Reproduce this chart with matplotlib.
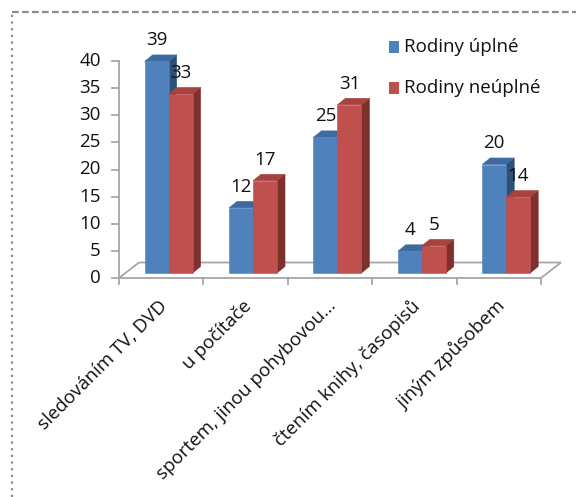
import matplotlib
matplotlib.use("Agg")
import matplotlib.pyplot as plt
from matplotlib.patches import Polygon, Rectangle
from matplotlib.lines import Line2D

plt.rcParams['font.family'] = ['Open Sans', 'DejaVu Sans']

categories = ["sledováním TV, DVD", "u počítače", "sportem, jinou pohybovou...",
              "čtením knihy, časopisů", "jiným způsobem"]
series_names = ["Rodiny úplné", "Rodiny neúplné"]
uplne = [39, 12, 25, 4, 20]
neuplne = [33, 17, 31, 5, 14]
y_ticks = [0, 5, 10, 15, 20, 25, 30, 35, 40]

# face colours: front, top, side
blue = ("#4F81BD", "#3E6AA1", "#2D4F78")
red = ("#C0504D", "#A6433F", "#7E302D")

W, H = 576, 497
fig = plt.figure(figsize=(W / 100, H / 100), dpi=100)
fig.patch.set_facecolor("white")

# plot area in pixels
px_left, px_right, px_zero, px_top = 119, 541, 278, 61
ax = fig.add_axes([px_left / W, (H - px_zero) / H,
                   (px_right - px_left) / W, (px_zero - px_top) / H])
ax.set_xlim(-0.5, 4.5)
ax.set_ylim(0, 40)
ax.axis("off")

ux = (px_right - px_left) / 5.0   # pixels per category
uy = (px_zero - px_top) / 40.0    # pixels per value unit

def px(dx, dy):
    return dx / ux, dy / uy

axis_col = "#A6A6A6"
text_col = "#111111"
fs = 13.5

# floor of the 3D plot
fdx, fdy = px(20, 15.5)
floor = [(-0.5, 0), (4.5, 0), (4.5 + fdx, fdy), (-0.5 + fdx, fdy)]
ax.add_patch(Polygon(floor, closed=True, facecolor="none", edgecolor=axis_col,
                     lw=1.3, clip_on=False, zorder=1))

# vertical axis and ticks
tick_len = px(7, 0)[0]
ax.plot([-0.5, -0.5], [0, 40], color=axis_col, lw=1.3, clip_on=False, zorder=1)
for t in y_ticks:
    ax.plot([-0.5 - tick_len, -0.5], [t, t], color=axis_col, lw=1.3, clip_on=False)
    ax.text(-0.5 - px(18, 0)[0], t, str(t), ha="right", va="center",
            fontsize=fs, color=text_col)

# category ticks below the front edge
for k in range(6):
    x = -0.5 + k
    ax.plot([x, x], [0, -px(0, 6)[1]], color=axis_col, lw=1.3, clip_on=False)

# bars
bw = px(24, 0)[0]
bdx, bdy = px(8, 6.5)
base_dx, base_dy = px(7.4, 5)

def bar3d(x0, value, cols):
    y0 = base_dy
    y1 = base_dy + value
    x0 = x0 + base_dx
    x1 = x0 + bw
    front = [(x0, y0), (x1, y0), (x1, y1), (x0, y1)]
    top = [(x0, y1), (x1, y1), (x1 + bdx, y1 + bdy), (x0 + bdx, y1 + bdy)]
    side = [(x1, y0), (x1 + bdx, y0 + bdy), (x1 + bdx, y1 + bdy), (x1, y1)]
    for poly, c in zip((side, top, front), (cols[2], cols[1], cols[0])):
        ax.add_patch(Polygon(poly, closed=True, facecolor=c, edgecolor=c,
                             lw=0.4, clip_on=False, zorder=3))
    return (x0 + x1) / 2, y1

for i in range(len(categories)):
    for j, (vals, cols) in enumerate(((uplne, blue), (neuplne, red))):
        cx, ytop = bar3d(i - bw + j * bw, vals[i], cols)
        ax.text(cx, ytop + px(0, 21)[1], str(vals[i]), ha="center", va="center",
                fontsize=fs, color=text_col, zorder=5)

# category labels
for i, lab in enumerate(categories):
    ax.text(i + px(3, 0)[0], -px(0, 25)[1], lab, rotation=45, rotation_mode="anchor",
            ha="right", va="center", fontsize=fs, color=text_col)

# legend
for k, (name, cols) in enumerate(zip(series_names, (blue, red))):
    ycen = 47 + k * 41
    fig.patches.append(Rectangle((389 / W, (H - ycen - 5.5) / H), 10 / W, 11 / H,
                                 transform=fig.transFigure, facecolor=cols[0],
                                 edgecolor="none"))
    fig.text(404 / W, (H - ycen) / H, name, ha="left", va="center",
             fontsize=fs, color=text_col)

# dashed frame on the top and left edges
fig.add_artist(Line2D([12 / W, 1], [(H - 12) / H] * 2, transform=fig.transFigure,
                      color="#8C8C8C", lw=1.6, ls=(0, (3, 1.5))))
fig.add_artist(Line2D([12 / W] * 2, [0, (H - 12) / H], transform=fig.transFigure,
                      color="#8C8C8C", lw=1.6, ls=(0, (1, 2))))

fig.savefig("out.png", dpi=100)
